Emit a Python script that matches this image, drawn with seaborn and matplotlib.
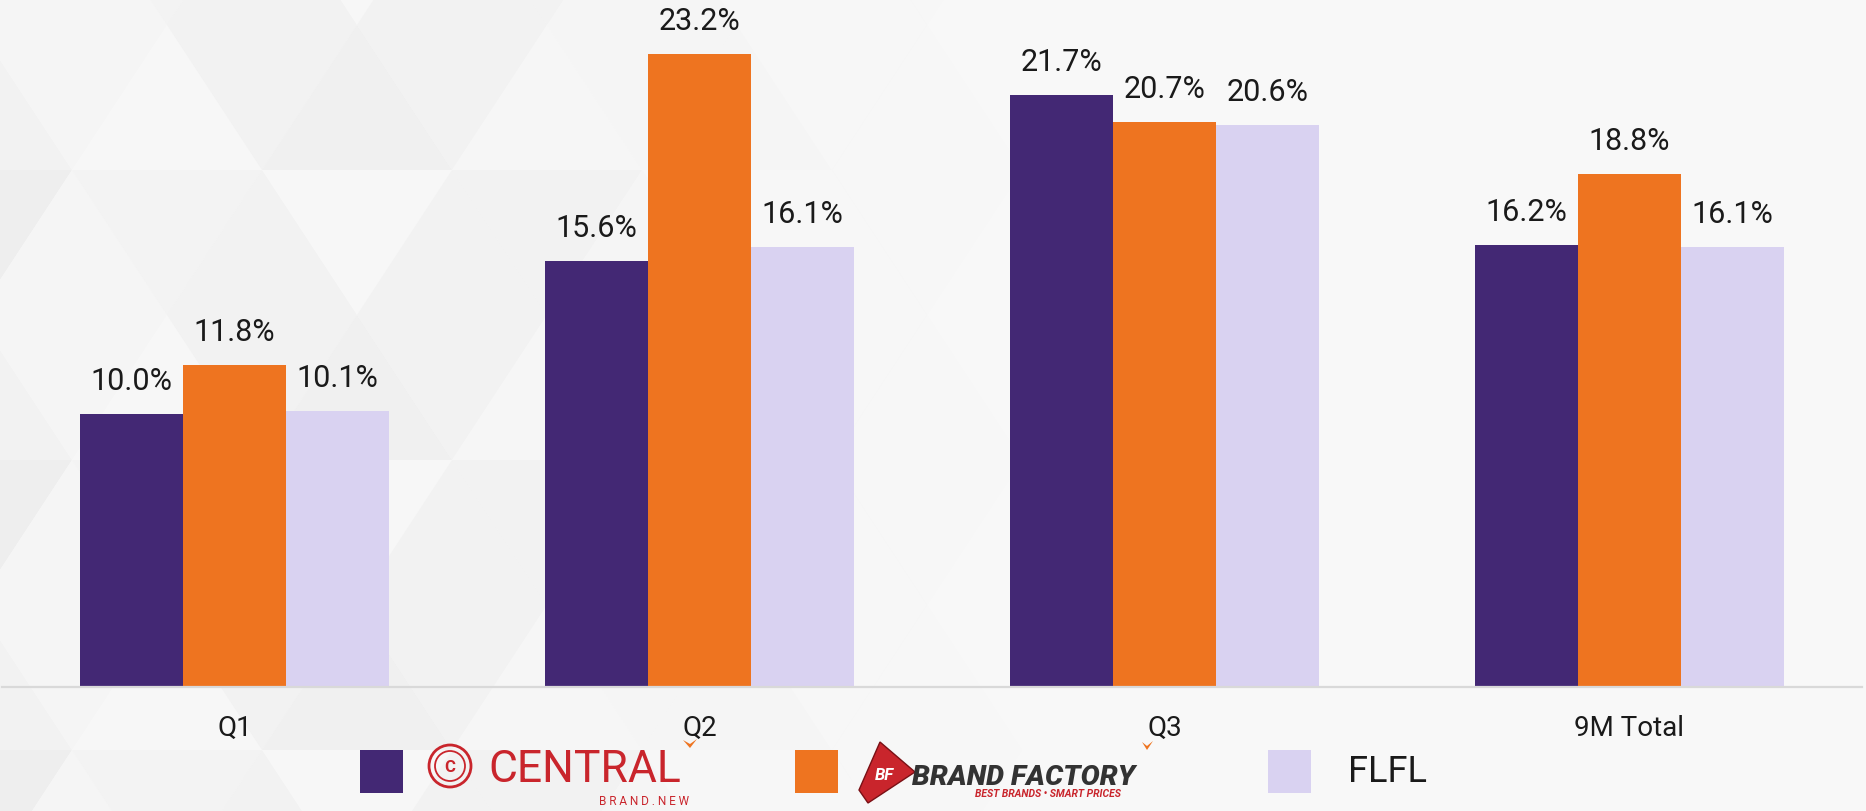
import numpy as np
import pandas as pd
import matplotlib
matplotlib.use("Agg")
import matplotlib.pyplot as plt
from matplotlib.patches import Polygon, Rectangle, Circle
import seaborn as sns

# ---------------- data ----------------
periods = ["Q1", "Q2", "Q3", "9M Total"]
brands = ["CENTRAL", "BRAND FACTORY", "FLFL"]
central_vals = [10.0, 15.6, 21.7, 16.2]
brand_factory_vals = [11.8, 23.2, 20.7, 18.8]
flfl_vals = [10.1, 16.1, 20.6, 16.1]
colors = ["#432874", "#ee7420", "#d9d2f1"]

df = pd.DataFrame({
    "period": periods * 3,
    "brand": [brands[0]] * 4 + [brands[1]] * 4 + [brands[2]] * 4,
    "value": central_vals + brand_factory_vals + flfl_vals,
})

sns.set_theme(style="white")
plt.rcParams["font.family"] = ["Roboto", "DejaVu Sans"]

W, H = 1866, 811
fig = plt.figure(figsize=(W / 100, H / 100), dpi=100, facecolor="#f8f8f8")

# background / decoration axes in pixel coordinates (y down)
bg = fig.add_axes([0, 0, 1, 1], zorder=0)
bg.set_xlim(0, W)
bg.set_ylim(H, 0)
bg.axis("off")

# ---------------- background triangle pattern ----------------
th, tb = 145, 190
shades = ["#f0f0f0", "#f5f5f5", "#ececec", "#f7f7f7", "#f2f2f2", "#eeeeee"]
for r in range(-1, 6):
    y0 = 25 + r * th
    y1 = y0 + th
    off = (r % 2) * tb / 2
    for k in range(-2, 8):
        xa = 357 - tb + off + k * tb
        tris = [
            [(xa, y0), (xa + tb, y0), (xa + tb / 2, y1)],
            [(xa + tb / 2, y1), (xa + tb, y0), (xa + 1.5 * tb, y1)],
        ]
        for t_i, tri in enumerate(tris):
            idx = (k * 5 + r * 3 + t_i * 2) % len(shades)
            cx = np.mean([p[0] for p in tri])
            fade = min(1.0, max(0.0, 1 - cx / 1000))
            if fade <= 0:
                continue
            bg.add_patch(Polygon(tri, closed=True, facecolor=shades[idx],
                                 edgecolor="none", alpha=fade, zorder=0))

# ---------------- legend ----------------
sq = 43
for x0, c in zip([360, 795, 1268], colors):
    bg.add_patch(Rectangle((x0, 750), sq, sq, facecolor=c, edgecolor="none",
                           zorder=3))

red = "#c9252c"
# CENTRAL logo (approximate)
bg.add_patch(Circle((450, 766), 21, facecolor="none", edgecolor=red,
                    linewidth=2.0, zorder=3))
bg.add_patch(Circle((450, 766), 15, facecolor="none", edgecolor=red,
                    linewidth=1.3, zorder=3))
bg.text(450, 767, "C", color=red, fontsize=12, fontweight="bold",
        ha="center", va="center", zorder=4)
bg.text(488, 782, "CENTRAL", color=red, fontsize=32, fontweight="normal",
        ha="left", va="baseline", zorder=4)
bg.text(689, 805, "B R A N D . N E W", color=red, fontsize=8.5,
        ha="right", va="baseline", zorder=4)
bg.add_patch(Polygon([(683, 740), (690, 748), (697, 739), (690, 744)],
                     closed=True, facecolor="#ee7420", edgecolor="none",
                     zorder=4))

# BRAND FACTORY logo (approximate)
bg.add_patch(Polygon([(880, 742), (915, 772), (868, 803), (859, 790)],
                     closed=True, facecolor=red, edgecolor="#7a1015",
                     linewidth=1, zorder=3))
bg.text(884, 775, "BF", color="white", fontsize=12, fontweight="bold",
        fontstyle="italic", ha="center", va="center", zorder=4)
bg.text(912, 785, "BRAND FACTORY", color="#333333", fontsize=20.5,
        fontweight="black", fontstyle="italic", ha="left", va="baseline",
        zorder=4)
bg.text(975, 797, "BEST BRANDS \u2022 SMART PRICES", color=red,
        fontsize=7.5, fontweight="bold", fontstyle="italic", ha="left",
        va="baseline", zorder=4)
bg.add_patch(Polygon([(1142, 742), (1147, 750), (1153, 741), (1147, 746)],
                     closed=True, facecolor="#ee7420", edgecolor="none",
                     zorder=4))

bg.text(1348, 772, "FLFL", color="#1a1a1a", fontsize=26,
        ha="left", va="center", zorder=4)

# ---------------- bars ----------------
ax = fig.add_axes([2 / W, 1 - 687 / H, 1860 / W, 687 / H], zorder=1)
ax.set_facecolor("none")
sns.barplot(data=df, x="period", y="value", hue="brand", palette=colors,
            width=0.665, gap=0, saturation=1, legend=False, ax=ax,
            edgecolor="none")
ax.set_ylim(0, 687 / 27.3)
ax.set_xlim(-0.5, 3.5)
for cont in ax.containers:
    ax.bar_label(cont, fmt="%.1f%%", padding=13, fontsize=22, color="#1a1a1a")

for s in ["top", "right", "left"]:
    ax.spines[s].set_visible(False)
ax.spines["bottom"].set_color("#d9d9d9")
ax.spines["bottom"].set_linewidth(1.6)
ax.set_yticks([])
ax.set_xlabel("")
ax.set_ylabel("")
ax.tick_params(axis="x", length=0, pad=20, labelsize=20, labelcolor="#1a1a1a")

fig.savefig("out.png", dpi=100, facecolor=fig.get_facecolor())
